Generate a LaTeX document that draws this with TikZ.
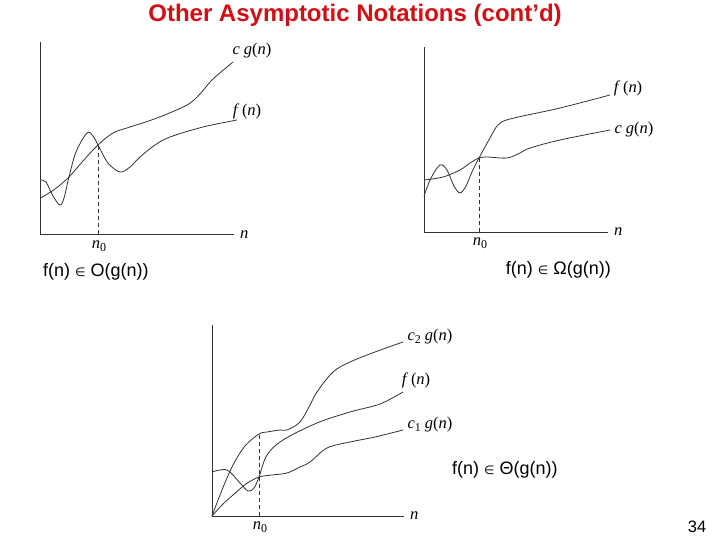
\documentclass[tikz,border=0pt]{standalone}
\usepackage{fontspec}
\setmainfont{Liberation Sans}
\newfontfamily\lblserif{Liberation Serif}
\newfontfamily\symfnt{DejaVu Sans}
\newcommand{\elemof}{{\symfnt\fontsize{12}{14}\selectfont ∈}}
\newcommand{\iv}[1]{\textit{#1}}
\newcommand{\lowsub}[1]{\raisebox{-0.35ex}{\fontsize{12}{14}\selectfont #1}}
\definecolor{titlered}{RGB}{210,14,20}
\definecolor{curve}{RGB}{50,50,50}
\begin{document}
\begin{tikzpicture}[x=1pt,y=-1pt,
  axis/.style={draw=curve,line width=0.8pt},
  crv/.style={draw=curve,line width=0.8pt,smooth,tension=0.55},
  guide/.style={draw=curve,line width=0.7pt,dash pattern=on 4pt off 3pt},
  lbl/.style={inner sep=0pt,font=\lblserif\fontsize{16.5}{19}\selectfont},
  caption/.style={inner sep=0pt,font=\fontsize{18}{21}\selectfont}]
\useasboundingbox (0,0) rectangle (720,540);
\node[inner sep=0pt,text=titlered,font=\fontsize{24}{28}\selectfont\bfseries] (title) at (355,15) {Other Asymptotic Notations (cont’d)};

% ---------- graph 1 : O ----------
\coordinate (o1) at (40.7,234);
\draw[axis] (40.7,42) -- (o1) -- (234,234);
\node[lbl,anchor=west] (n1) at (240,235) {\iv{n}};
\coordinate (x1) at (98,145);
\draw[guide] (98,234) -- (x1);
\node[lbl] (n01) at (99,246) {\iv{n}\lowsub{0}};
\draw[crv] plot coordinates {(40.7,198) (55,189) (69,177) (83,161) (98,145) (113,133) (130,127) (157,118) (187,105) (200,94) (212,80) (233,62)};
\draw[crv] plot coordinates {(40.7,180) (46,182) (53,196) (60,205) (64,198) (69,177) (76,152) (87,133) (93,136) (98,145) (108,163) (120,172) (130,167) (140,157) (155,145) (170,137) (203,127) (237,120)};
\node[lbl] (cg1) at (252,51) {\iv{c g}(\iv{n})};
\node[lbl] (f1) at (247,111) {\iv{f}\,(\iv{n})};
\node[caption,anchor=west] (cap1) at (43,272) {f(n) \elemof\ O(g(n))};

% ---------- graph 2 : Omega ----------
\coordinate (o2) at (424,232);
\draw[axis] (424,47) -- (o2) -- (608,232);
\node[lbl,anchor=west] (n2) at (614,232) {\iv{n}};
\coordinate (x2) at (479,158);
\draw[guide] (479,232) -- (x2);
\node[lbl] (n02) at (480,243) {\iv{n}\lowsub{0}};
\draw[crv] plot coordinates {(424,180) (443,177) (460,170) (470,163) (479,158) (487,157) (507,158) (520,153) (530,148) (560,140) (610,130)};
\draw[crv] plot coordinates {(424,196) (431,178) (440,165) (447,170) (454,186) (460,193) (466,186) (472,172) (479,158) (490,138) (498,125) (510,119) (560,108) (610,95)};
\node[lbl] (f2) at (628,88) {\iv{f}\,(\iv{n})};
\node[lbl] (cg2) at (634,130) {\iv{c g}(\iv{n})};
\node[caption,anchor=east] (cap2) at (611,270) {f(n) \elemof\ Ω(g(n))};

% ---------- graph 3 : Theta ----------
\coordinate (o3) at (212,516);
\draw[axis] (212,325) -- (o3) -- (404,516);
\node[lbl,anchor=west] (n3) at (410,516) {\iv{n}};
\coordinate (x3) at (259,434);
\draw[guide] (259,516) -- (x3);
\node[lbl] (n03) at (260,527) {\iv{n}\lowsub{0}};
\draw[crv] plot coordinates {(o3) (222,490) (233,465) (245,446) (259,434) (267,432) (280,430) (287,430) (300,422) (310,405) (317,392) (333,372) (350,362) (375,352) (403,342)};
\draw[crv] plot coordinates {(212,472) (227,470) (240,483) (248,491) (254,488) (259,477) (267,455) (283,440) (317,423) (350,412) (380,404) (403,392)};
\draw[crv] plot coordinates {(o3) (222,505) (233,495) (246,484) (259,477) (272,475) (287,473) (300,467) (310,462) (327,448) (350,442) (375,437) (403,430)};
\node[lbl] (c2g) at (430,337) {\iv{c}\lowsub{2} \iv{g}(\iv{n})};
\node[lbl] (f3) at (416,380) {\iv{f}\,(\iv{n})};
\node[lbl] (c1g) at (430,425) {\iv{c}\lowsub{1} \iv{g}(\iv{n})};
\node[caption,anchor=west] (cap3) at (452,470) {f(n) \elemof\ Θ(g(n))};

\node[caption,font=\fontsize{16.5}{19}\selectfont] (page) at (697,527) {34};
\end{tikzpicture}
\end{document}
